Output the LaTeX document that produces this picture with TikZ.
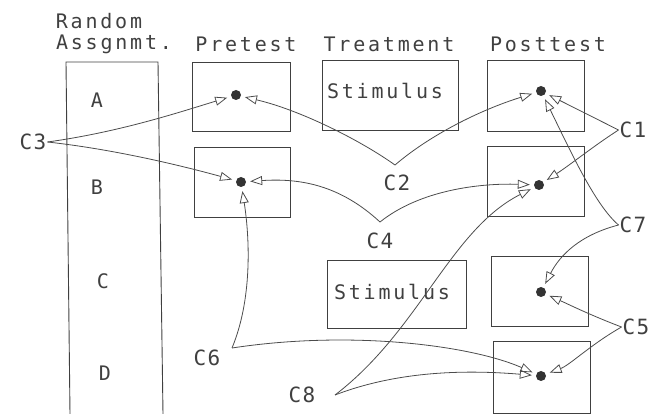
\documentclass[tikz,border=0pt]{standalone}
\usepackage{fontspec}
\usetikzlibrary{arrows.meta}
\newfontfamily\hand[LetterSpace=14]{DejaVu Sans Mono}
\newfontfamily\handlab[LetterSpace=6]{DejaVu Sans Mono}
\begin{document}
\begin{tikzpicture}[x=1pt,y=-1pt,
  txt/.style={font=\hand\fontsize{20}{22}\selectfont, text=black!75, inner sep=1pt},
  lab/.style={font=\handlab\fontsize{21}{22}\selectfont, text=black!75, inner sep=1pt},
  box/.style={draw=black!75, line width=0.9pt, rectangle, inner sep=0pt},
  dot/.style={circle, fill=black!80, inner sep=0pt, minimum size=10pt},
  arr/.style={draw=black!70, line width=0.8pt, shorten >=4pt,
    -{Triangle[open, length=12pt, width=9pt, line width=0.8pt]}}]
\useasboundingbox (0,0) rectangle (654,414);
% headers
\node[txt] (hRand) at (99,21) {Random};
\node[txt] (hAssg) at (114,44) {Assgnmt.};
\node[txt] (hPre) at (246,44) {Pretest};
\node[txt] (hTreat) at (389,44) {Treatment};
\node[txt] (hPost) at (548,44) {Posttest};
% random assignment column
\draw[draw=black!75, line width=0.9pt] (70,414) -- (66,62) -- (158,62) -- (163,414);
\node[txt] (gA) at (97,100) {A};
\node[txt] (gB) at (97,187) {B};
\node[txt] (gC) at (103,281) {C};
\node[txt] (gD) at (105,373) {D};
% boxes
\node[box, minimum width=98pt, minimum height=69pt] (preA) at (241,96.5) {};
\node[box, minimum width=96pt, minimum height=70pt] (preB) at (242,182) {};
\node[box, minimum width=136pt, minimum height=70pt] (stimA) at (390,95) {};
\node[txt] (stimAt) at (385,91) {Stimulus};
\node[box, minimum width=139pt, minimum height=68pt] (stimC) at (396.5,294) {};
\node[txt] (stimCt) at (392,292) {Stimulus};
\node[box, minimum width=97pt, minimum height=71pt] (postA) at (535.5,95.5) {};
\node[box, minimum width=97pt, minimum height=70pt] (postB) at (535.5,181) {};
\node[box, minimum width=97pt, minimum height=70pt] (postC) at (539.5,291) {};
\node[box, minimum width=97pt, minimum height=72pt] (postD) at (541.5,377) {};
% dots
\node[dot] (dPA) at (236,95) {};
\node[dot] (dPB) at (241,182) {};
\node[dot] (dA) at (541,91) {};
\node[dot] (dB) at (539,185) {};
\node[dot] (dC) at (541,292) {};
\node[dot] (dD) at (541,376) {};
% labels
\node[lab] (C3) at (33,142) {C3};
\node[lab] (C1) at (633,130) {C1};
\node[lab] (C2) at (397,183) {C2};
\node[lab] (C4) at (380,241) {C4};
\node[lab] (C7) at (633,225) {C7};
\node[lab] (C5) at (636,327) {C5};
\node[lab] (C6) at (207,358) {C6};
\node[lab] (C8) at (302,395) {C8};
\coordinate (v2) at (395,165);
\coordinate (v4) at (380,222);
\coordinate (v6) at (232,348);
\coordinate (v8) at (335,395);
% connectors
\draw[arr] (C3.east) .. controls (120,132) and (180,112) .. (dPA);
\draw[arr] (C3.east) .. controls (120,150) and (190,168) .. (dPB);
\draw[arr] (v2) .. controls (360,140) and (300,110) .. (dPA);
\draw[arr] (v2) .. controls (430,135) and (480,110) .. (dA);
\draw[arr] (v4) .. controls (340,185) and (300,178) .. (dPB);
\draw[arr] (v4) .. controls (420,190) and (480,183) .. (dB);
\draw[arr] (C1.west) -- (dA);
\draw[arr] (C1.west) .. controls (595,145) and (570,165) .. (dB);
\draw[arr] (C7.west) .. controls (595,205) and (570,150) .. (dA);
\draw[arr] (C7.west) .. controls (580,235) and (560,255) .. (dC);
\draw[arr] (C5.west) .. controls (590,315) and (570,305) .. (dC);
\draw[arr] (C5.west) .. controls (590,345) and (570,365) .. (dD);
\draw[arr] (v6) .. controls (252,300) and (250,240) .. (dPB);
\draw[arr] (v6) .. controls (350,330) and (470,345) .. (dD);
\draw[arr] (v8) .. controls (420,330) and (450,230) .. (dB);
\draw[arr] (v8) .. controls (400,370) and (470,370) .. (dD);
\end{tikzpicture}
\end{document}
